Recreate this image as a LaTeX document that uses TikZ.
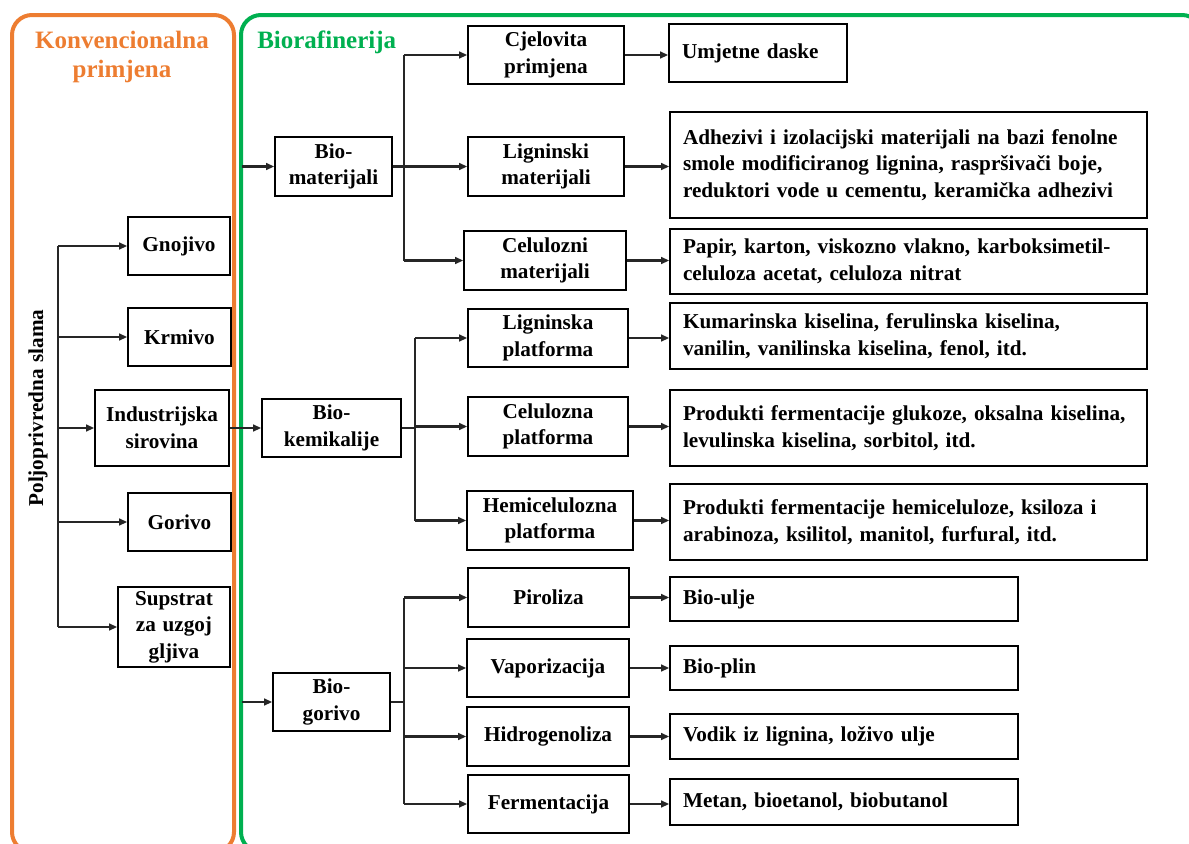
\documentclass[tikz,border=0pt]{standalone}
\usepackage{fontspec}
\setmainfont{Liberation Serif}[WordSpace=1.25]
\usetikzlibrary{arrows.meta}
\definecolor{korange}{HTML}{ED7D31}
\definecolor{kgreen}{HTML}{00B050}
\begin{document}
\begin{tikzpicture}[x=0.75pt,y=-0.75pt,
  font=\bfseries\fontsize{15.9}{20}\selectfont,
  box/.style={draw=black, line width=1.2pt, inner sep=2pt, align=center},
  rbox/.style={draw=black, line width=1.2pt, inner xsep=9.75pt, inner ysep=2pt, align=left},
  conn/.style={draw=black!85, line width=1.7pt},
  arr/.style={conn, -{Triangle[length=6pt,width=5pt]}},
  frame/.style={line width=3pt, rounded corners=15pt},
  ttl/.style={inner sep=0pt, font=\bfseries\fontsize{18.75}{22}\selectfont}]
\useasboundingbox (0,0) rectangle (1189,843);
\clip (0,0) rectangle (1189,843);
% frames
\draw[frame, korange] (12,15) rectangle (234,852);
\draw[frame, kgreen] (241,15) rectangle (1202,852);
% titles
\node[ttl, korange, align=center, anchor=north] (tk) at (122,31) {Konvencionalna\\primjena};
\node[ttl, kgreen, anchor=base west] (tb) at (257,48) {Biorafinerija};
% left column
\node[rotate=90, inner sep=0pt] (ps) at (38,408) {Poljoprivredna slama};
\node[box, minimum width=76.5pt, minimum height=43.5pt] (gno) at (179,246) {Gnojivo};
\node[box, minimum width=77.25pt, minimum height=43.5pt] (krm) at (179.5,337) {Krmivo};
\node[box, minimum width=100.5pt, minimum height=57pt] (ind) at (162,428) {Industrijska\\sirovina};
\node[box, minimum width=77.25pt, minimum height=43.5pt] (gor) at (179.5,522) {Gorivo};
\node[box, minimum width=84pt, minimum height=60pt] (sup) at (174,627) {Supstrat\\za uzgoj\\gljiva};
% second column
\node[box, minimum width=87.75pt, minimum height=44.25pt] (bmat) at (333.5,166.5) {Bio-\\materijali};
\node[box, minimum width=104.25pt, minimum height=43.5pt] (bkem) at (331.5,428) {Bio-\\kemikalije};
\node[box, minimum width=87.75pt, minimum height=43.5pt] (bgor) at (331.5,702) {Bio-\\gorivo};
% third column
\node[box, minimum width=117pt, minimum height=43.5pt] (cje) at (546,55) {Cjelovita\\primjena};
\node[box, minimum width=117pt, minimum height=44.25pt] (lig) at (546,166.5) {Ligninski\\materijali};
\node[box, minimum width=121.5pt, minimum height=44.25pt] (cel) at (545,260.5) {Celulozni\\materijali};
\node[box, minimum width=120pt, minimum height=43.5pt] (ligp) at (548,338) {Ligninska\\platforma};
\node[box, minimum width=120pt, minimum height=44.25pt] (celp) at (548,426.5) {Celulozna\\platforma};
\node[box, minimum width=124.5pt, minimum height=44.25pt] (hemp) at (550,520.5) {Hemicelulozna\\platforma};
\node[box, minimum width=120.75pt, minimum height=44.25pt] (pir) at (548.5,597.5) {Piroliza};
\node[box, minimum width=121.5pt, minimum height=43.5pt] (vap) at (548,668) {Vaporizacija};
\node[box, minimum width=121.5pt, minimum height=44.25pt] (hid) at (548,736.5) {Hidrogenoliza};
\node[box, minimum width=120.75pt, minimum height=43.5pt] (fer) at (548.5,804) {Fermentacija};
% right column
\node[rbox, text width=114pt, minimum height=43.5pt] (umj) at (758,53) {Umjetne daske};
\node[rbox, text width=338.25pt, minimum height=79.5pt] (adh) at (908.5,165) {Adhezivi i izolacijski materijali na bazi fenolne\\smole modificiranog lignina, raspršivači boje,\\reduktori vode u cementu, keramička adhezivi};
\node[rbox, text width=338.25pt, minimum height=48.75pt] (pap) at (908.5,261.5) {Papir, karton, viskozno vlakno, karboksimetil-\\celuloza acetat, celuloza nitrat};
\node[rbox, text width=338.25pt, minimum height=49.5pt] (kum) at (908.5,336) {Kumarinska kiselina, ferulinska kiselina,\\vanilin, vanilinska kiselina, fenol, itd.};
\node[rbox, text width=338.25pt, minimum height=57pt] (prg) at (908.5,428) {Produkti fermentacije glukoze, oksalna kiselina,\\levulinska kiselina, sorbitol, itd.};
\node[rbox, text width=338.25pt, minimum height=57pt] (prh) at (908.5,522) {Produkti fermentacije hemiceluloze, ksiloza i\\arabinoza, ksilitol, manitol, furfural, itd.};
\node[rbox, text width=241.5pt, minimum height=33pt] (bul) at (844,599) {Bio-ulje};
\node[rbox, text width=241.5pt, minimum height=33pt] (bpl) at (844,668) {Bio-plin};
\node[rbox, text width=241.5pt, minimum height=33.75pt] (vod) at (844,736.5) {Vodik iz lignina, loživo ulje};
\node[rbox, text width=241.5pt, minimum height=34.5pt] (met) at (844,802) {Metan, bioetanol, biobutanol};
% trunk coordinates
\coordinate (lt) at (58,0);
\coordinate (gin) at (242,0);
\coordinate (ta) at (404,0);
\coordinate (tbk) at (415,0);
% left trunk
\draw[conn] (lt |- gno) -- (lt |- sup);
\draw[arr] (lt |- gno) -- (gno.west);
\draw[arr] (lt |- krm) -- (krm.west);
\draw[arr] (lt |- ind) -- (ind.west);
\draw[arr] (lt |- gor) -- (gor.west);
\draw[arr] (lt |- sup) -- (sup.west);
% into biorefinery
\draw[arr] (ind.east) -- (bkem.west);
\draw[arr] (gin |- bmat) -- (bmat.west);
\draw[arr] (gin |- bgor) -- (bgor.west);
% bio-materijali
\draw[conn] (bmat.east) -- (ta |- bmat);
\draw[conn] (ta |- cje) -- (ta |- cel);
\draw[arr] (ta |- cje) -- (cje.west);
\draw[arr] (ta |- lig) -- (lig.west);
\draw[arr] (ta |- cel) -- (cel.west);
% bio-kemikalije
\draw[conn] (bkem.east) -- (tbk |- bkem);
\draw[conn] (tbk |- ligp) -- (tbk |- hemp);
\draw[arr] (tbk |- ligp) -- (ligp.west);
\draw[arr] (tbk |- celp) -- (celp.west);
\draw[arr] (tbk |- hemp) -- (hemp.west);
% bio-gorivo
\draw[conn] (bgor.east) -- (ta |- bgor);
\draw[conn] (ta |- pir) -- (ta |- fer);
\draw[arr] (ta |- pir) -- (pir.west);
\draw[arr] (ta |- vap) -- (vap.west);
\draw[arr] (ta |- hid) -- (hid.west);
\draw[arr] (ta |- fer) -- (fer.west);
% to products
\draw[arr] (cje.east) -- (cje.east -| umj.west);
\draw[arr] (lig.east) -- (lig.east -| adh.west);
\draw[arr] (cel.east) -- (cel.east -| pap.west);
\draw[arr] (ligp.east) -- (ligp.east -| kum.west);
\draw[arr] (celp.east) -- (celp.east -| prg.west);
\draw[arr] (hemp.east) -- (hemp.east -| prh.west);
\draw[arr] (pir.east) -- (pir.east -| bul.west);
\draw[arr] (vap.east) -- (vap.east -| bpl.west);
\draw[arr] (hid.east) -- (hid.east -| vod.west);
\draw[arr] (fer.east) -- (fer.east -| met.west);
\end{tikzpicture}
\end{document}
